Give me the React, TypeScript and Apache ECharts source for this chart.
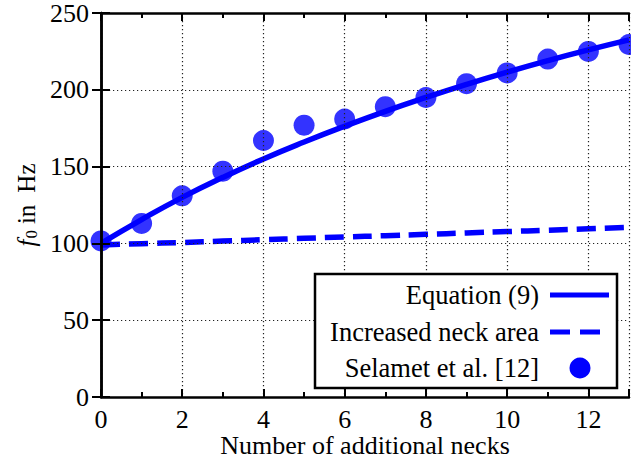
import React, { useEffect, useRef } from "react";
import * as echarts from "echarts";

const necks = [0, 1, 2, 3, 4, 5, 6, 7, 8, 9, 10, 11, 12, 13];
const equation9 = [100, 115.5, 130, 143, 155, 166, 176.3, 186, 195, 203.5, 211.5, 219, 226, 232.5];
const increasedNeckArea = [99, 99.8, 100.6, 101.5, 102.4, 103.3, 104.2, 105, 105.9, 106.8, 107.7, 108.6, 109.5, 110.4];
const selamet = [101.6, 113, 131, 147, 167, 177, 181, 189, 195, 204, 211, 220, 225, 229.5];
const xTicks = [0, 2, 4, 6, 8, 10, 12];
const yTicks = [0, 50, 100, 150, 200, 250];
const legendLabels = ["Equation (9)", "Increased neck area", "Selamet et al. [12]"];

const FONT = "Liberation Serif";
const BLUE = "#0000ff";

export default function App() {
  const ref = useRef<HTMLDivElement>(null);
  useEffect(() => {
    if (!ref.current) return;
    const chart = echarts.init(ref.current, null, { renderer: "svg" });
    const pair = (ys: number[]) => necks.map((x, i) => [x, ys[i]]);
    const gridLine = { show: true, lineStyle: { color: "#222", width: 1.2, type: [1.2, 2.8] } };
    const xBase = { type: "value", min: 0, max: 13 };
    const yBase = { type: "value", min: yTicks[0], max: yTicks[yTicks.length - 1], interval: 50 };
    const axisLine = { show: true, lineStyle: { color: "#000", width: 2.5 } };
    const legendX = 539;
    const sampleX0 = 550;
    const sampleX1 = 609;
    const rowsY = [295, 332, 368];
    chart.setOption({
      animation: false,
      textStyle: { fontFamily: FONT },
      grid: { left: 101, right: 2, top: 13, bottom: 62, containLabel: false, outerBoundsMode: "none" },
      xAxis: [
        {
          ...xBase,
          position: "bottom",
          interval: 2,
          axisLine,
          axisTick: { show: true, inside: true, length: 8, lineStyle: { color: "#000", width: 2 } },
          axisLabel: {
            show: true,
            margin: 9,
            fontFamily: FONT,
            fontSize: 26,
            color: "#000",
            formatter: (v: number) => (xTicks.includes(v) ? String(v) : ""),
          },
          splitLine: gridLine,
          name: "Number of additional necks",
          nameLocation: "middle",
          nameGap: 35,
          nameMoveOverlap: false,
          nameTextStyle: { fontFamily: FONT, fontSize: 26, lineHeight: 26, color: "#000" },
          z: 5,
        },
        {
          ...xBase,
          position: "bottom",
          interval: 1,
          axisLine: { show: false },
          axisTick: { show: true, inside: true, length: 5, lineStyle: { color: "#000", width: 2 } },
          axisLabel: { show: false },
          splitLine: { show: false },
          z: 5,
        },
        {
          ...xBase,
          position: "top",
          interval: 2,
          axisLine,
          axisTick: { show: true, inside: true, length: 8, lineStyle: { color: "#000", width: 2 } },
          axisLabel: { show: false },
          splitLine: { show: false },
          z: 5,
        },
        {
          ...xBase,
          position: "top",
          interval: 1,
          axisLine: { show: false },
          axisTick: { show: true, inside: true, length: 5, lineStyle: { color: "#000", width: 2 } },
          axisLabel: { show: false },
          splitLine: { show: false },
          z: 5,
        },
      ],
      yAxis: [
        {
          ...yBase,
          position: "left",
          axisLine,
          axisTick: { show: true, inside: true, length: 9, lineStyle: { color: "#000", width: 2 } },
          axisLabel: { show: true, margin: 12, fontFamily: FONT, fontSize: 26, color: "#000" },
          splitLine: gridLine,
          name: "{i|f}{s|0}{t|in}{h|Hz}",
          nameLocation: "middle",
          nameGap: 61,
          nameMoveOverlap: false,
          nameTextStyle: {
            fontFamily: FONT,
            fontSize: 25,
            color: "#000",
            rich: {
              i: { fontFamily: FONT, fontSize: 25, fontStyle: "italic", color: "#000" },
              s: { fontFamily: FONT, fontSize: 17, color: "#000", padding: [10, 0, 0, 1] },
              t: { fontFamily: FONT, fontSize: 25, color: "#000", padding: [0, 0, 0, 6] },
              h: { fontFamily: FONT, fontSize: 25, color: "#000", padding: [0, 0, 0, 12] },
            },
          },
          z: 5,
        },
        {
          ...yBase,
          position: "right",
          axisLine,
          axisTick: { show: true, inside: true, length: 9, lineStyle: { color: "#000", width: 2 } },
          axisLabel: { show: false },
          splitLine: { show: false },
          z: 5,
        },
      ],
      series: [
        {
          name: legendLabels[0],
          type: "line",
          data: pair(equation9),
          smooth: true,
          symbol: "none",
          lineStyle: { color: BLUE, width: 5.5 },
          z: 2,
        },
        {
          name: legendLabels[1],
          type: "line",
          data: pair(increasedNeckArea),
          smooth: true,
          symbol: "none",
          lineStyle: { color: BLUE, width: 5.5, type: [19, 9] },
          z: 2,
        },
        {
          name: legendLabels[2],
          type: "scatter",
          data: pair(selamet),
          symbol: "circle",
          symbolSize: 21,
          itemStyle: { color: BLUE },
          z: 3,
        },
      ],
      graphic: [
        {
          type: "rect",
          shape: { x: 315, y: 274, width: 302, height: 114 },
          style: { fill: "#fff", stroke: "#000", lineWidth: 2.5 },
          z: 100,
        },
        ...legendLabels.map((t, i) => ({
          type: "text",
          x: legendX,
          y: rowsY[i],
          style: {
            text: t,
            fontFamily: FONT,
            fontSize: 26.5,
            fill: "#000",
            textAlign: "right",
            textVerticalAlign: "middle",
          },
          z: 101,
        })),
        {
          type: "line",
          shape: { x1: sampleX0, y1: rowsY[0], x2: sampleX1, y2: rowsY[0] },
          style: { stroke: BLUE, lineWidth: 5 },
          z: 101,
        },
        {
          type: "line",
          shape: { x1: sampleX0, y1: rowsY[1], x2: sampleX1, y2: rowsY[1] },
          style: { stroke: BLUE, lineWidth: 5, lineDash: [20, 10] },
          z: 101,
        },
        {
          type: "circle",
          shape: { cx: 580, cy: rowsY[2], r: 10.5 },
          style: { fill: BLUE },
          z: 101,
        },
      ],
    });
    return () => chart.dispose();
  }, []);
  return (
    <div
      ref={ref}
      style={{ position: "fixed", left: 0, top: 0, width: 631, height: 459, background: "#fff" }}
    />
  );
}
